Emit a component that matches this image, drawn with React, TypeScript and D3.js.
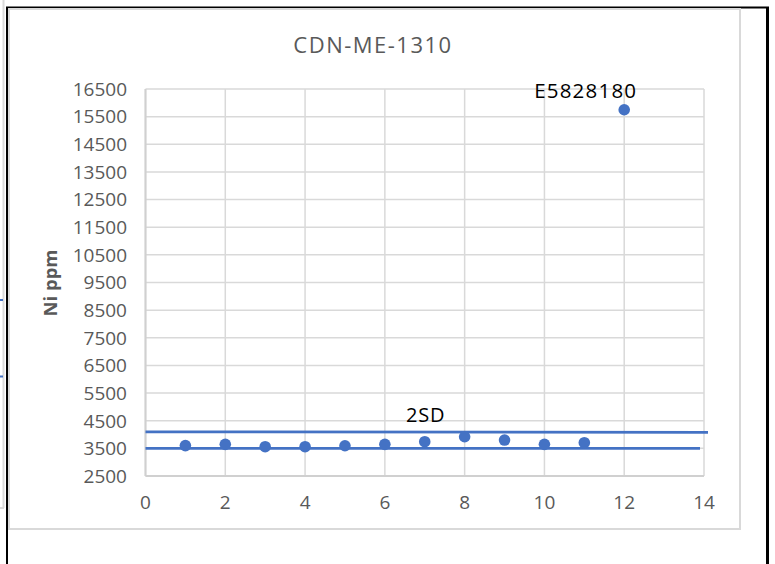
import React from "react";
import * as d3 from "d3";

const sampleIndex = [1, 2, 3, 4, 5, 6, 7, 8, 9, 10, 11, 12];
const niPpm = [3600, 3645, 3560, 3560, 3595, 3645, 3740, 3920, 3800, 3645, 3705, 15750];
const upperLine = [
  { x: 0, y: 4100 },
  { x: 14.1, y: 4080 },
];
const lowerLine = [
  { x: 0, y: 3500 },
  { x: 13.9, y: 3500 },
];
const xTicks = [0, 2, 4, 6, 8, 10, 12, 14];
const yTicks = [2500, 3500, 4500, 5500, 6500, 7500, 8500, 9500, 10500, 11500, 12500, 13500, 14500, 15500, 16500];
const title = "CDN-ME-1310";
const yLabel = "Ni ppm";
const pointLabel = { x: 12, text: "E5828180" };
const sdLabel = { x: 7, y: 4100, text: "2SD" };

export default function App() {
  const W = 775;
  const H = 564;
  const x = d3.scaleLinear().domain([0, 14]).range([145.5, 704]);
  const y = d3.scaleLinear().domain([2500, 16500]).range([476, 89]);
  const line = d3
    .line<{ x: number; y: number }>()
    .x((d) => x(d.x))
    .y((d) => y(d.y));
  const blue = "#4472C4";
  const grid = "#d9d9d9";
  const txt = "#595959";
  const font = "'Open Sans', sans-serif";

  return (
    <svg
      width={W}
      height={H}
      style={{ position: "absolute", left: 0, top: 0, background: "#fff" }}
    >
      {/* decorative background fragments */}
      <line x1={3.5} y1={0} x2={3.5} y2={508} stroke="#d9d9d9" strokeWidth={2} />
      <line x1={0} y1={508} x2={4} y2={508} stroke="#d9d9d9" strokeWidth={2} />
      <line x1={0} y1={300} x2={3} y2={300} stroke={blue} strokeWidth={2} />
      <line x1={0} y1={376.5} x2={3} y2={376.5} stroke={blue} strokeWidth={2} />
      {/* outer black frame */}
      <line x1={7} y1={7} x2={7} y2={H} stroke="#000" strokeWidth={2} />
      <line x1={6} y1={7.5} x2={769} y2={7.5} stroke="#000" strokeWidth={2} />
      <line x1={767.5} y1={7} x2={767.5} y2={H} stroke="#000" strokeWidth={3} />
      {/* chart area border */}
      <rect x={9} y={9} width={731} height={520} fill="#fff" stroke={grid} strokeWidth={2} />

      {/* title */}
      <text
        x={373}
        y={53}
        textAnchor="middle"
        fontFamily={font}
        fontSize={22}
        letterSpacing={1.5}
        fill={txt}
      >
        {title}
      </text>

      {/* gridlines */}
      {yTicks.map((t) => (
        <line key={"gy" + t} x1={x(0)} x2={x(14)} y1={y(t)} y2={y(t)} stroke={grid} strokeWidth={1.5} />
      ))}
      {xTicks.map((t) => (
        <line key={"gx" + t} x1={x(t)} x2={x(t)} y1={y(16500)} y2={y(2500)} stroke={grid} strokeWidth={1.5} />
      ))}
      {/* axis lines */}
      <line x1={x(0)} x2={x(14)} y1={y(2500)} y2={y(2500)} stroke="#d0d0d0" strokeWidth={2} />
      <line x1={x(0)} x2={x(0)} y1={y(16500)} y2={y(2500)} stroke="#d0d0d0" strokeWidth={2} />

      {/* tick labels */}
      {yTicks.map((t) => (
        <text
          key={"ty" + t}
          x={127}
          y={y(t)}
          dy="0.36em"
          textAnchor="end"
          fontFamily={font}
          fontSize={19}
          fill={txt}
        >
          {t}
        </text>
      ))}
      {xTicks.map((t) => (
        <text
          key={"tx" + t}
          x={x(t)}
          y={509}
          textAnchor="middle"
          fontFamily={font}
          fontSize={19}
          fill={txt}
        >
          {t}
        </text>
      ))}

      {/* y axis label */}
      <text
        transform={`translate(57,283) rotate(-90)`}
        textAnchor="middle"
        fontFamily={font}
        fontSize={18.5}
        fontWeight="bold"
        fill={txt}
      >
        {yLabel}
      </text>

      {/* 2SD lines */}
      <path d={line(upperLine) || ""} fill="none" stroke={blue} strokeWidth={2.75} />
      <path d={line(lowerLine) || ""} fill="none" stroke={blue} strokeWidth={2.75} />

      {/* points */}
      {sampleIndex.map((s, i) => (
        <circle key={"p" + s} cx={x(s)} cy={y(niPpm[i])} r={5.8} fill={blue} />
      ))}

      {/* labels */}
      <text
        x={x(pointLabel.x) - 38.5}
        y={98}
        textAnchor="middle"
        fontFamily={font}
        fontSize={20.5}
        letterSpacing={1.2}
        fill="#000"
      >
        {pointLabel.text}
      </text>
      <text
        x={x(sdLabel.x) + 1}
        y={422}
        textAnchor="middle"
        fontFamily={font}
        fontSize={20}
        letterSpacing={0.8}
        fill="#000"
      >
        {sdLabel.text}
      </text>
    </svg>
  );
}
